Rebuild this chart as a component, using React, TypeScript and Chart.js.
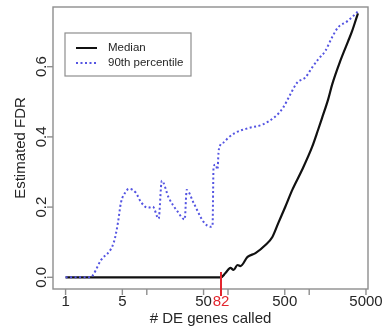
import React, { useEffect, useRef } from "react";
import { Chart, registerables } from "chart.js";

Chart.register(...registerables);

// Number of DE genes called (log x) and estimated FDR
const medianN = [1, 82, 93, 107, 117, 131, 142, 174, 218, 289, 352, 417, 508, 619, 821, 1089, 1290, 1444, 1711, 1915, 2401, 3009, 3371, 3882, 3990];
const medianFDR = [0, 0, 0.012, 0.027, 0.021, 0.035, 0.032, 0.058, 0.069, 0.092, 0.115, 0.155, 0.201, 0.249, 0.307, 0.372, 0.421, 0.455, 0.507, 0.549, 0.615, 0.672, 0.701, 0.744, 0.752];

const p90N = [1, 2, 2.73, 3.94, 4.41, 4.8, 5.53, 6.01, 7.33, 8.44, 10.3, 11.85, 14.0, 15.3, 18.6, 24.0, 29.3, 31.0, 37.7, 50.0, 61, 64.5, 66.4, 70.2, 74.3, 76.4, 80.9, 88.1, 101.4, 123.6, 178.4, 265, 382.6, 479.7, 584.8, 712.6, 893.3, 1088.5, 1289.5, 1571, 1915, 2269, 2926, 3467, 3990];
const p90FDR = [0, 0, 0.049, 0.101, 0.155, 0.212, 0.244, 0.252, 0.241, 0.215, 0.198, 0.201, 0.167, 0.275, 0.227, 0.187, 0.165, 0.249, 0.212, 0.158, 0.144, 0.146, 0.315, 0.321, 0.307, 0.355, 0.378, 0.384, 0.398, 0.412, 0.425, 0.435, 0.458, 0.484, 0.521, 0.555, 0.569, 0.598, 0.621, 0.644, 0.684, 0.712, 0.729, 0.744, 0.758];

const seriesNames = ["Median", "90th percentile"];
const xTickValues = [1, 5, 10, 50, 100, 500, 1000, 5000];
const xTickLabels = ["1", "5", "", "50", "", "500", "", "5000"];
const yTickValues = [0, 0.2, 0.4, 0.6];
const yTickLabels = ["0.0", "0.2", "0.4", "0.6"];
const thresholdN = 82;
const xTitle = "# DE genes called";
const yTitle = "Estimated FDR";

const FONT = "'Liberation Sans', Arial, Helvetica, sans-serif";
const BLUE = "rgb(84,84,226)";

const framePlugin = {
  id: "rframe",
  afterDraw(chart: any) {
    const { ctx, chartArea: a } = chart;
    const xs = chart.scales.x;
    const ys = chart.scales.y;
    ctx.save();
    // box
    ctx.strokeStyle = "#8e8e8e";
    ctx.lineWidth = 1.4;
    ctx.strokeRect(a.left, a.top, a.right - a.left, a.bottom - a.top);

    // x ticks & labels
    ctx.font = "15px " + FONT;
    ctx.fillStyle = "#262626";
    ctx.textAlign = "center";
    ctx.textBaseline = "alphabetic";
    xTickValues.forEach((v, i) => {
      const px = xs.getPixelForValue(v);
      ctx.beginPath();
      ctx.moveTo(px, a.bottom);
      ctx.lineTo(px, a.bottom + 6);
      ctx.stroke();
      if (xTickLabels[i]) ctx.fillText(xTickLabels[i], px, a.bottom + 17);
    });

    // threshold marker
    const tx = xs.getPixelForValue(thresholdN);
    ctx.strokeStyle = "#e3262e";
    ctx.lineWidth = 2;
    ctx.beginPath();
    ctx.moveTo(tx, a.bottom - 17);
    ctx.lineTo(tx, a.bottom + 7);
    ctx.stroke();
    ctx.fillStyle = "#e3262e";
    ctx.fillText(String(thresholdN), tx, a.bottom + 17);

    // y ticks & labels
    ctx.strokeStyle = "#8e8e8e";
    ctx.lineWidth = 1.4;
    ctx.fillStyle = "#262626";
    yTickValues.forEach((v, i) => {
      const py = ys.getPixelForValue(v);
      ctx.beginPath();
      ctx.moveTo(a.left - 6, py);
      ctx.lineTo(a.left, py);
      ctx.stroke();
      ctx.save();
      ctx.translate(a.left - 7.5, py);
      ctx.rotate(-Math.PI / 2);
      ctx.textAlign = "center";
      ctx.fillText(yTickLabels[i], 0, 0);
      ctx.restore();
    });

    // axis titles
    ctx.textAlign = "center";
    ctx.fillText(xTitle, (a.left + a.right) / 2, a.bottom + 34);
    ctx.save();
    ctx.translate(24.5, (a.top + a.bottom) / 2);
    ctx.rotate(-Math.PI / 2);
    ctx.fillText(yTitle, 0, 0);
    ctx.restore();

    // legend
    const lx = a.left + 12;
    const ly = a.top + 26;
    ctx.strokeStyle = "#8e8e8e";
    ctx.lineWidth = 1.2;
    ctx.strokeRect(lx, ly, 126, 43);
    ctx.lineWidth = 2;
    ctx.strokeStyle = "#111";
    ctx.beginPath();
    ctx.moveTo(lx + 11, ly + 15);
    ctx.lineTo(lx + 32, ly + 15);
    ctx.stroke();
    ctx.strokeStyle = BLUE;
    ctx.setLineDash([2, 2.5]);
    ctx.beginPath();
    ctx.moveTo(lx + 11, ly + 30);
    ctx.lineTo(lx + 32, ly + 30);
    ctx.stroke();
    ctx.setLineDash([]);
    ctx.font = "11.5px " + FONT;
    ctx.textAlign = "left";
    ctx.textBaseline = "middle";
    ctx.fillStyle = "#262626";
    ctx.fillText(seriesNames[0], lx + 43, ly + 15);
    ctx.fillText(seriesNames[1], lx + 43, ly + 30);
    ctx.restore();
  },
};

export default function App() {
  const ref = useRef<HTMLCanvasElement>(null);
  useEffect(() => {
    const chart = new Chart(ref.current as HTMLCanvasElement, {
      type: "line",
      data: {
        datasets: [
          {
            label: seriesNames[1],
            data: p90N.map((n, i) => ({ x: n, y: p90FDR[i] })),
            borderColor: BLUE,
            borderWidth: 2,
            borderDash: [2, 2.5],
            pointRadius: 0,
            cubicInterpolationMode: "monotone",
            fill: false,
          },
          {
            label: seriesNames[0],
            data: medianN.map((n, i) => ({ x: n, y: medianFDR[i] })),
            borderColor: "#111111",
            borderWidth: 2.2,
            pointRadius: 0,
            cubicInterpolationMode: "monotone",
            fill: false,
          },
        ],
      },
      options: {
        responsive: false,
        animation: false,
        events: [],
        layout: { padding: { left: 53, top: 7, right: 15, bottom: 40 } },
        plugins: {
          legend: { display: false },
          tooltip: { enabled: false },
          title: { display: false },
        },
        scales: {
          x: { type: "logarithmic", min: 0.7227, max: 5295, display: false },
          y: { type: "linear", min: -0.0333, max: 0.77, display: false },
        },
      },
      plugins: [framePlugin],
    });
    return () => chart.destroy();
  }, []);
  return (
    <div style={{ position: "fixed", left: 0, top: 0, width: 383, height: 329, background: "#fff" }}>
      <canvas ref={ref} width={383} height={329} style={{ display: "block", width: 383, height: 329 }} />
    </div>
  );
}
